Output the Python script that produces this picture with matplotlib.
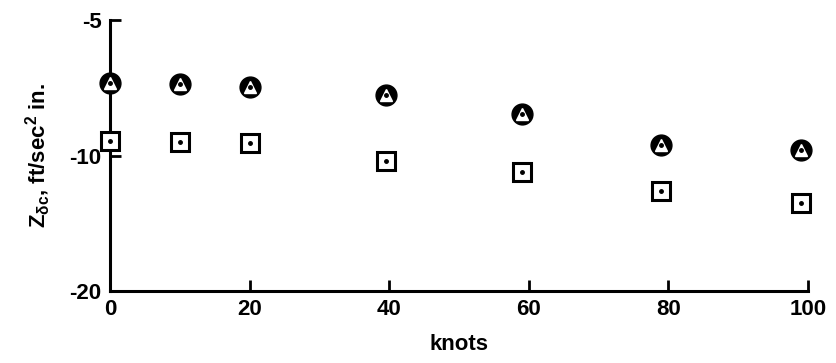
import numpy as np
import matplotlib
matplotlib.use("Agg")
import matplotlib.pyplot as plt

plt.rcParams['font.family'] = ['Liberation Sans', 'DejaVu Sans']
plt.rcParams['font.weight'] = 'bold'
plt.rcParams['mathtext.default'] = 'regular'

# speed, knots
knots = [0, 10, 20, 39.5, 59, 79, 99]
# control derivative, two configurations
z_tri = [-6.9, -6.95, -7.05, -7.35, -8.1, -9.5, -9.7]
z_sq = [-9.3, -9.35, -9.4, -10.3, -10.9, -12.0, -12.75]

x_ticks = [0, 20, 40, 60, 80, 100]
y_ticks = [-5, -10, -20]

fig = plt.figure(figsize=(8.36, 3.63), dpi=100)
ax = fig.add_axes([0.1316, 0.1983, 0.8349, 0.7466])

# log spacing on the magnitude, -5 at the top
ax.set_yscale('function', functions=(lambda v: -np.log10(np.abs(v)),
                                     lambda t: -10.0 ** (-t)))
ax.set_ylim(-20, -5)
ax.set_xlim(0, 100)

# circle with a white triangle and a dot in the middle
ax.plot(knots, z_tri, 'o', ms=15, color='black', clip_on=False, zorder=3)
ax.plot(knots, z_tri, '^', ms=8.5, color='white', mec='white', clip_on=False, zorder=4)
ax.plot(knots, z_tri, 'o', ms=2.5, color='black', clip_on=False, zorder=5)

# open square with a dot
ax.plot(knots, z_sq, 's', ms=13, mfc='white', mec='black', mew=2.2,
        clip_on=False, zorder=3)
ax.plot(knots, z_sq, 'o', ms=2.5, color='black', clip_on=False, zorder=5)

for s in ['top', 'right']:
    ax.spines[s].set_visible(False)
for s in ['left', 'bottom']:
    ax.spines[s].set_linewidth(2.2)

ax.set_xticks(x_ticks)
ax.set_yticks(y_ticks)
ax.yaxis.set_minor_locator(matplotlib.ticker.NullLocator())
ax.set_yticklabels([str(v) for v in y_ticks])
ax.tick_params(axis='both', direction='in', length=8, width=2,
               labelsize=16, pad=6)

ax.set_xlabel('knots', fontsize=16, fontweight='bold', labelpad=10)
ax.set_ylabel(r'$Z_{\delta c}$, ft/sec$^2$ in.', fontsize=16,
              fontweight='bold', labelpad=12)

fig.savefig('out.png', dpi=100)
